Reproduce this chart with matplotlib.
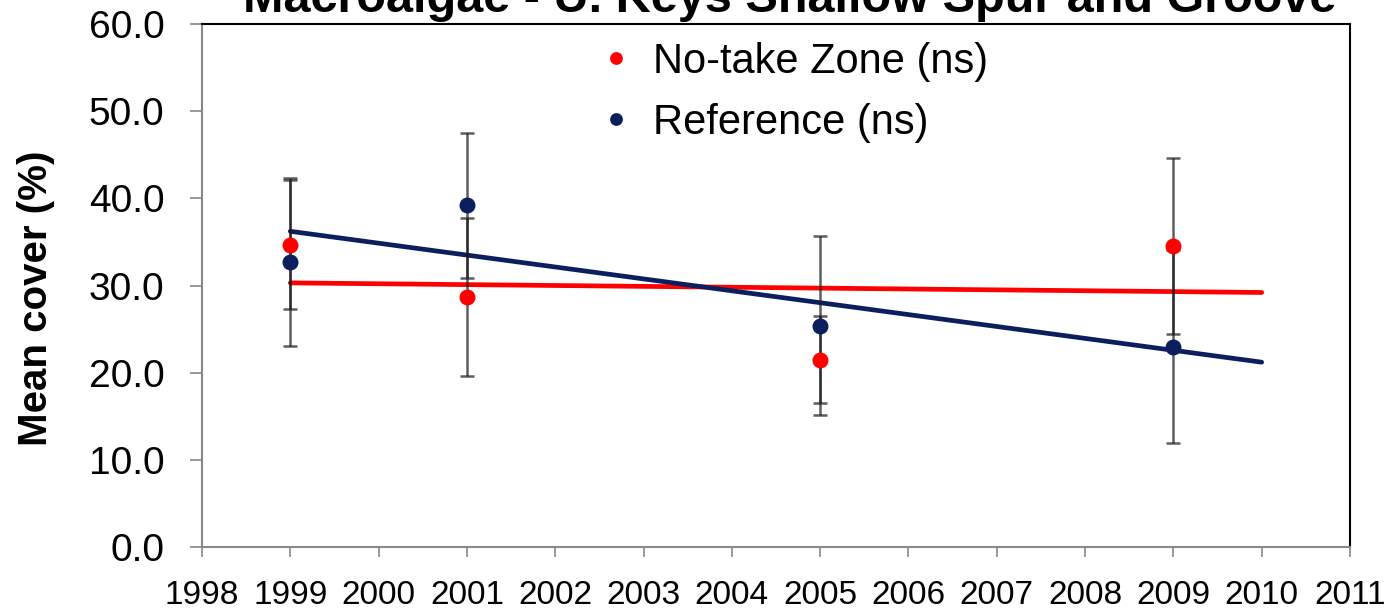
import numpy as np
import matplotlib
matplotlib.use("Agg")
import matplotlib.pyplot as plt

plt.rcParams['font.family'] = ['Liberation Sans', 'DejaVu Sans']

# Datos
years = [1999, 2001, 2005, 2009]
notake_mean = [34.7, 28.7, 21.5, 34.5]
notake_se = [7.4, 9.1, 5.0, 10.1]
ref_mean = [32.7, 39.2, 25.4, 23.0]
ref_se = [9.6, 8.3, 10.3, 11.1]
fit_years = [1999, 2010]

x_ticks = list(range(1998, 2012))
y_ticks = [0, 10, 20, 30, 40, 50, 60]

titulo = "Macroalgae - U. Keys Shallow Spur and Groove"
red = '#FF0000'
navy = '#0B1F5E'

fig = plt.figure(figsize=(13.9, 6.13), dpi=100)
ax = fig.add_axes([202 / 1390, 1 - 547 / 613, 1148 / 1390, 523 / 613])

# Líneas de tendencia (regresión lineal)
xf = np.array(fit_years, dtype=float)
for mean, col in [(notake_mean, red), (ref_mean, navy)]:
    m, b = np.polyfit(years, mean, 1)
    ax.plot(xf, m * xf + b, color=col, lw=3.4, solid_capstyle='round', zorder=2)

# Barras de error
for mean, se in [(notake_mean, notake_se), (ref_mean, ref_se)]:
    ax.errorbar(years, mean, yerr=se, fmt='none', ecolor='#1a1a1a', alpha=0.7,
                elinewidth=1.8, capsize=5, capthick=1.8, zorder=3)

# Puntos
ax.plot(years, notake_mean, 'o', color=red, ms=11.5, mec='none', zorder=4,
        label='No-take Zone (ns)')
ax.plot(years, ref_mean, 'o', color=navy, ms=11.5, mec='none', zorder=5,
        label='Reference (ns)')

ax.set_xlim(1998, 2011)
ax.set_ylim(0, 60)
ax.set_xticks(x_ticks)
ax.set_xticklabels([str(y) for y in x_ticks], fontsize=24)
ax.set_yticks(y_ticks)
ax.set_yticklabels([f"{v:.1f}" for v in y_ticks], fontsize=28)
ax.tick_params(axis='x', direction='out', length=7, width=1.2, color='#888888', pad=17)
ax.tick_params(axis='y', direction='out', length=9, width=1.2, color='#888888', pad=18)

for s in ['left', 'bottom']:
    ax.spines[s].set_color('#888888')
    ax.spines[s].set_linewidth(1.5)
for s in ['top', 'right']:
    ax.spines[s].set_color('black')
    ax.spines[s].set_linewidth(1.5)

ax.legend(loc='upper left', bbox_to_anchor=(605 / 1390, 1 - 42 / 613),
          bbox_transform=fig.transFigure, frameon=False, fontsize=30,
          handlelength=0.55, handletextpad=0.6, labelspacing=0.5,
          borderpad=0, borderaxespad=0, markerscale=0.8)

fig.text(790 / 1390, 1 - 12 / 613, titulo, ha='center', va='baseline',
         fontsize=35, fontweight='bold')
fig.text(36 / 1390, 1 - 298 / 613, "Mean cover (%)", ha='center', va='center',
         rotation=90, fontsize=29, fontweight='bold')

fig.savefig('out.png', dpi=100)
